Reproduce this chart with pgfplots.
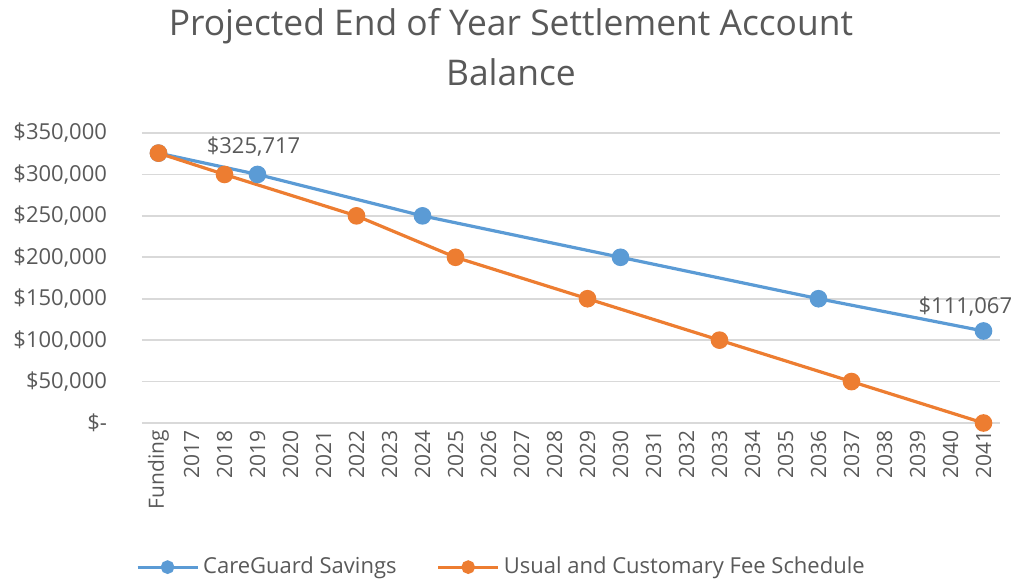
\documentclass[border=0pt]{standalone}
\usepackage{fontspec}
\setmainfont{Open Sans}
\usepackage{pgfplots}
\pgfplotsset{compat=1.18}
\definecolor{cgblue}{HTML}{5B9BD5}
\definecolor{cgorange}{HTML}{ED7D31}
\definecolor{gridgray}{HTML}{D9D9D9}
\definecolor{txtgray}{HTML}{595959}
\begin{document}
\begin{tikzpicture}
\begin{axis}[
  scale only axis,
  width=429pt, height=145pt,
  xmin=-0.5, xmax=25.5,
  ymin=0, ymax=350000,
  scaled y ticks=false,
  axis line style={draw=none},
  xtick={0,...,25},
  xticklabels={Funding,2017,2018,2019,2020,2021,2022,2023,2024,2025,2026,2027,2028,2029,2030,2031,2032,2033,2034,2035,2036,2037,2038,2039,2040,2041},
  x tick label style={rotate=90, anchor=east, font=\fontsize{10.5}{12}\selectfont, text=txtgray},
  ytick={0,50000,100000,150000,200000,250000,300000,350000},
  yticklabels={{\$-},{\$50,000},{\$100,000},{\$150,000},{\$200,000},{\$250,000},{\$300,000},{\$350,000}},
  y tick label style={font=\fontsize{11}{13}\selectfont, text=txtgray, xshift=-14pt},
  major tick length=0pt,
  ymajorgrids,
  grid style={gridgray, line width=0.8pt},
  title={Projected End of Year Settlement Account\\Balance},
  title style={at={(0.43,1)}, anchor=south, yshift=14pt, align=center, font=\fontsize{17.7}{25}\selectfont, text=txtgray},
  legend columns=2,
  legend style={at={(0.42,-0.497)}, anchor=center, draw=none, font=\fontsize{11}{13}\selectfont, text=txtgray, /tikz/every even column/.append style={column sep=18pt}},
  legend image code/.code={\draw[#1] (0pt,0pt) -- (30pt,0pt); \draw[#1, mark repeat=1, mark size=2.6pt] plot coordinates {(15pt,0pt)};},
  clip=false,
]
\addplot[cgblue, line width=1.6pt, mark=*, mark size=3.6pt] coordinates {
  (0,325717) (3,300000) (8,250000) (14,200000) (20,150000) (25,111067)
};
\addlegendentry{CareGuard Savings}
\addplot[cgorange, line width=1.6pt, mark=*, mark size=3.6pt] coordinates {
  (0,325717) (2,300000) (6,250000) (9,200000) (13,150000) (17,100000) (21,50000) (25,0)
};
\addlegendentry{Usual and Customary Fee Schedule}
\node[text=txtgray, font=\fontsize{11}{13}\selectfont] at (axis cs:2.88,334000) {\$325,717};
\node[text=txtgray, font=\fontsize{11}{13}\selectfont] at (axis cs:24.45,141000) {\$111,067};
\end{axis}
\path[use as bounding box] (-71pt,-78.5pt) rectangle (446.5pt,211.5pt);
\end{tikzpicture}
\end{document}
